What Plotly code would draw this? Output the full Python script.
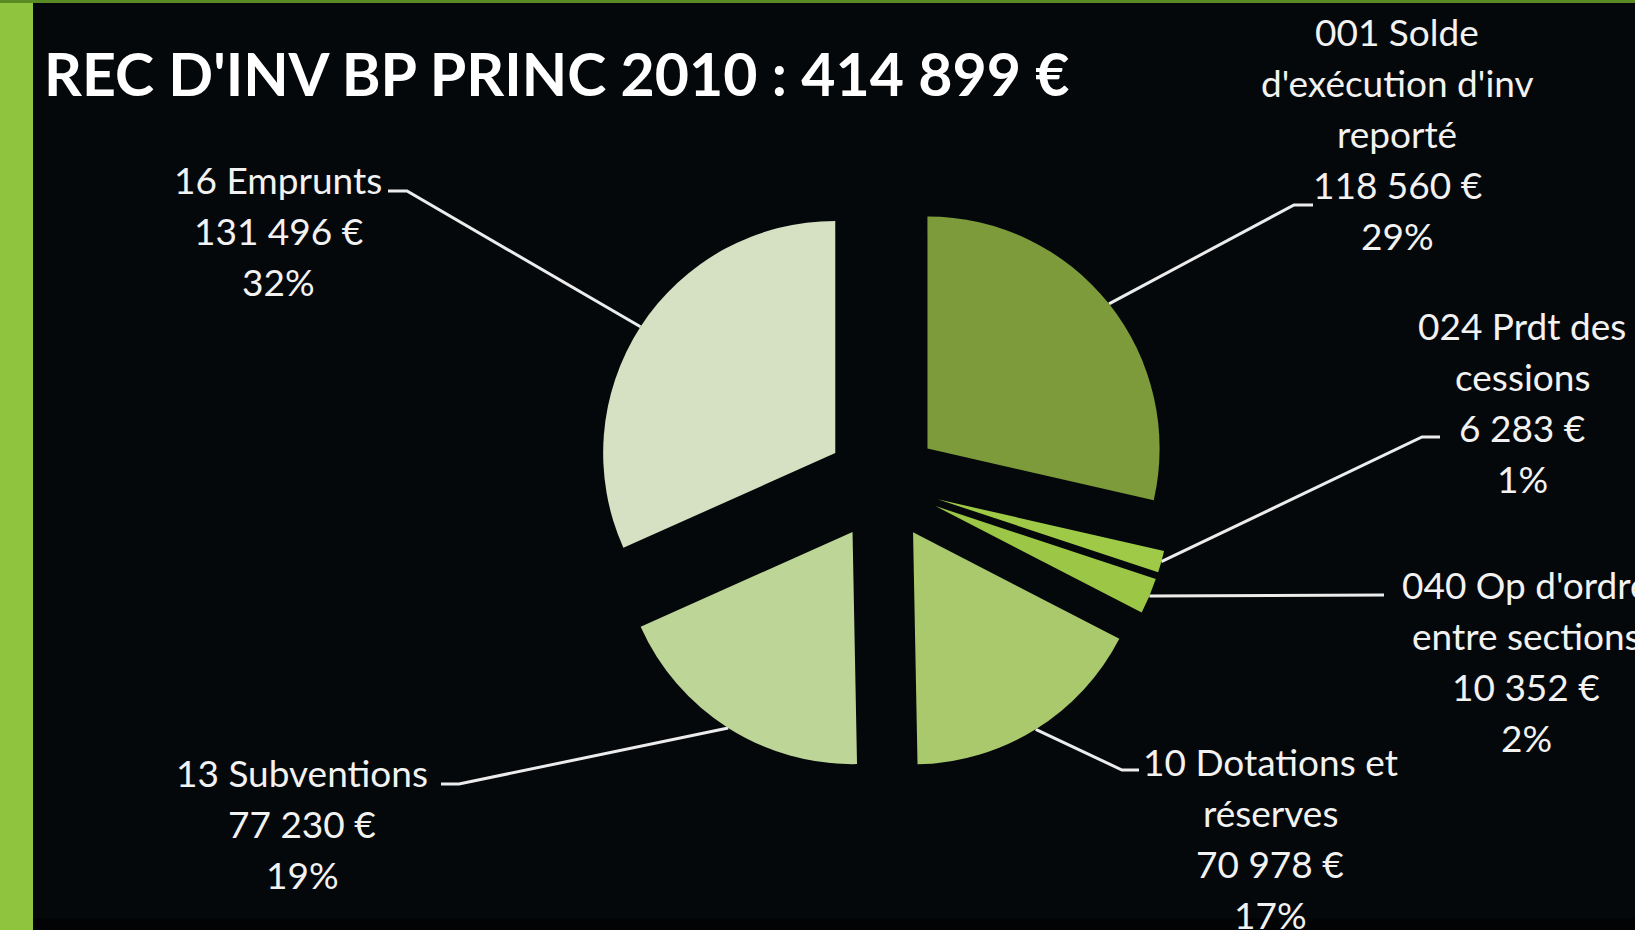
import plotly.graph_objects as go
import math

# ---------------- data ----------------
categories = [
    "001 Solde d'exécution d'inv reporté",
    "024 Prdt des cessions",
    "040 Op d'ordre entre sections",
    "10 Dotations et réserves",
    "13 Subventions",
    "16 Emprunts",
]
label_lines = [
    ["001 Solde", "d'exécution d'inv", "reporté"],
    ["024 Prdt des", "cessions"],
    ["040 Op d'ordre", "entre sections"],
    ["10 Dotations et", "réserves"],
    ["13 Subventions"],
    ["16 Emprunts"],
]
values = [118560, 6283, 10352, 70978, 77230, 131496]
percent_labels = ["29%", "1%", "2%", "17%", "19%", "32%"]
title_text = "REC D'INV BP PRINC 2010 : 414 899 €"

# ---------------- style / layout ----------------
W, H = 1635, 930
BG = "#05080b"
colors = ["#7d9b3b", "#9fca48", "#9cc646", "#a9c96c", "#bdd596", "#d6e0c2"]
PULL = 0.245
CX, CY, RTOT = 883, 484, 289   # pixel centre and outer extent of pie box

# label placement: (centre x, first line y, elbow (x,y), end (x,y))
label_pos = [
    (1397, 31, (1294, 205), (1313, 205)),
    (1522, 325, (1422, 437), (1440, 437)),
    (1526, 584, (1300, 595), (1384, 595)),
    (1270, 761, (1122, 770), (1139, 770)),
    (302, 772, (459, 784), (441, 784)),
    (278, 179, (407, 191), (388, 191)),
]
LINE_GAP = 51
FONT = "Lato"
LABEL_SIZE = 37

fig = go.Figure()

dom_x = [(CX - RTOT) / W, (CX + RTOT) / W]
dom_y = [1 - (CY + RTOT) / H, 1 - (CY - RTOT) / H]

fig.add_trace(go.Pie(
    labels=categories, values=values, sort=False, direction="clockwise",
    rotation=0, pull=[PULL] * len(values), textinfo="none",
    marker=dict(colors=colors, line=dict(width=0)),
    domain=dict(x=dom_x, y=dom_y), showlegend=False,
    hovertemplate="%{label}<br>%{value} €<br>%{percent}<extra></extra>",
))

# leader lines: start at outer midpoint of each (pulled) slice
r = RTOT / (1 + PULL)
total = sum(values)
cum = 0
annotations = []
for i, v in enumerate(values):
    mid = (cum + v / 2) / total * 2 * math.pi
    cum += v
    dist = r * (1 + PULL)
    sx = CX + dist * math.sin(mid)
    sy = CY - dist * math.cos(mid)
    cx_lbl, y0, elbow, end = label_pos[i]
    fig.add_trace(go.Scatter(
        x=[sx, elbow[0], end[0]], y=[sy, elbow[1], end[1]],
        mode="lines", line=dict(color="#ececec", width=3),
        xaxis="x", yaxis="y", showlegend=False, hoverinfo="skip",
    ))
    val_txt = f"{v:,}".replace(",", " ") + " €"
    lines = label_lines[i] + [val_txt, percent_labels[i]]
    for k, t in enumerate(lines):
        annotations.append(dict(
            x=cx_lbl, y=y0 + k * LINE_GAP, xref="x", yref="y", text=t,
            showarrow=False, xanchor="center", yanchor="middle",
            font=dict(family=FONT, size=LABEL_SIZE, color="#f2f2f2"),
        ))

annotations.append(dict(
    x=42, y=73, xref="x", yref="y", text=f"<b>{title_text}</b>",
    showarrow=False, xanchor="left", yanchor="middle",
    font=dict(family=FONT, size=59, color="#ffffff"),
))

shapes = [
    dict(type="rect", xref="x", yref="y", x0=0, x1=33, y0=0, y1=H,
         fillcolor="#8fc43f", line=dict(width=0), layer="below"),
    dict(type="rect", xref="x", yref="y", x0=0, x1=W, y0=0, y1=3,
         fillcolor="#5a8a24", line=dict(width=0), layer="below"),
    dict(type="rect", xref="x", yref="y", x0=33, x1=W, y0=918, y1=H,
         fillcolor="#020304", line=dict(width=0), layer="below"),
]

fig.update_layout(
    width=W, height=H, margin=dict(l=0, r=0, t=0, b=0),
    paper_bgcolor=BG, plot_bgcolor=BG,
    xaxis=dict(range=[0, W], visible=False, fixedrange=True, domain=[0, 1]),
    yaxis=dict(range=[H, 0], visible=False, fixedrange=True, domain=[0, 1]),
    annotations=annotations, shapes=shapes,
)

fig.write_html(
    "out.html",
    config={"displayModeBar": False},
    post_script="document.body.style.margin='0';document.body.style.overflow='hidden';",
)
